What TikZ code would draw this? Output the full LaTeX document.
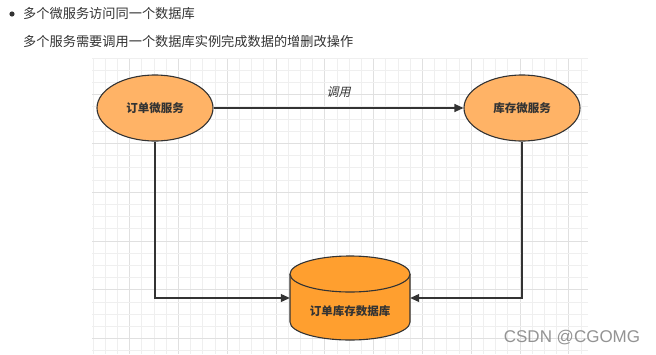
\documentclass[tikz,border=0pt]{standalone}
\usepackage{fontspec}
\setmainfont{Liberation Sans}
\newfontfamily\cjk{Noto Sans CJK SC}
\newfontfamily\cjkit{Noto Sans CJK SC}[FakeSlant=0.22]
\usetikzlibrary{shapes.geometric,arrows.meta}
\definecolor{ink}{HTML}{333333}
\definecolor{lightorange}{HTML}{FFB366}
\definecolor{dborange}{HTML}{FF9F2F}
\definecolor{gridminor}{HTML}{EFEFEF}
\definecolor{gridmajor}{HTML}{E0E0E0}
\tikzset{
  svc/.style={ellipse, draw=ink, line width=1.1pt, fill=lightorange, minimum width=116pt, minimum height=66pt, inner sep=0pt, font=\cjk\bfseries\fontsize{11.5}{12}\selectfont, text=ink},
  conn/.style={draw=ink, line width=1.1pt, -{Triangle[width=8pt,length=9pt]}},
  body/.style={text=ink, font=\cjk\fontsize{13}{15}\selectfont, anchor=west, inner sep=0pt}
}
\begin{document}
\begin{tikzpicture}[x=1pt,y=-1pt]
\useasboundingbox (0,0) rectangle (656,354);
\fill[white] (0,0) rectangle (656,354);
% grid
\foreach \i in {0,...,40} {
  \pgfmathtruncatemacro{\m}{mod(\i,4)}
  \ifnum\m=3 \def\gc{gridmajor}\else\def\gc{gridminor}\fi
  \draw[\gc, line width=0.8pt] ({93+12.2*\i},58) -- ({93+12.2*\i},354);
}
\foreach \j in {0,...,24} {
  \pgfmathtruncatemacro{\m}{mod(\j,4)}
  \ifnum\m=3 \def\gc{gridmajor}\else\def\gc{gridminor}\fi
  \draw[\gc, line width=0.8pt] (92,{58+12.2*\j}) -- (588,{58+12.2*\j});
}
% header text
\fill[ink] (12,14) circle (2.6pt);
\node[body, font=\cjk\fontsize{13.2}{15}\selectfont] (t1) at (23,14) {多个微服务访问同一个数据库};
\node[body, font=\cjk\fontsize{13.2}{15}\selectfont] (t2) at (23,41) {多个服务需要调用一个数据库实例完成数据的增删改操作};
% services
\node[svc] (a) at (155,108) {订单微服务};
\node[svc] (b) at (522,108) {库存微服务};
% database cylinder
\fill[dborange] (290,274) -- (290,322) arc[start angle=180, end angle=360, x radius=60pt, y radius=18pt] -- (410,274) -- cycle;
\draw[ink, line width=1.1pt] (290,274) -- (290,322) arc[start angle=180, end angle=360, x radius=60pt, y radius=18pt] -- (410,274);
\draw[ink, line width=1.1pt, fill=dborange] (350,274) ellipse [x radius=60pt, y radius=18pt];
\node[minimum width=120pt, minimum height=84pt, inner sep=0pt] (db) at (350,298) {};
\node[text=ink, font=\cjk\bfseries\fontsize{11.5}{12}\selectfont] (dbl) at (350,311) {订单库存数据库};
% connectors
\draw[conn] (a) -- node[above=7pt, text=ink, font=\cjkit\fontsize{12}{13}\selectfont] (lbl) {调用} (b);
\draw[conn] (a.south) |- (db.west);
\draw[conn] (b.south) |- (db.east);
% watermark
\node[text=gray!85, font=\fontsize{17}{18}\selectfont] (wm) at (572,338) {CSDN @CGOMG};
\end{tikzpicture}
\end{document}
